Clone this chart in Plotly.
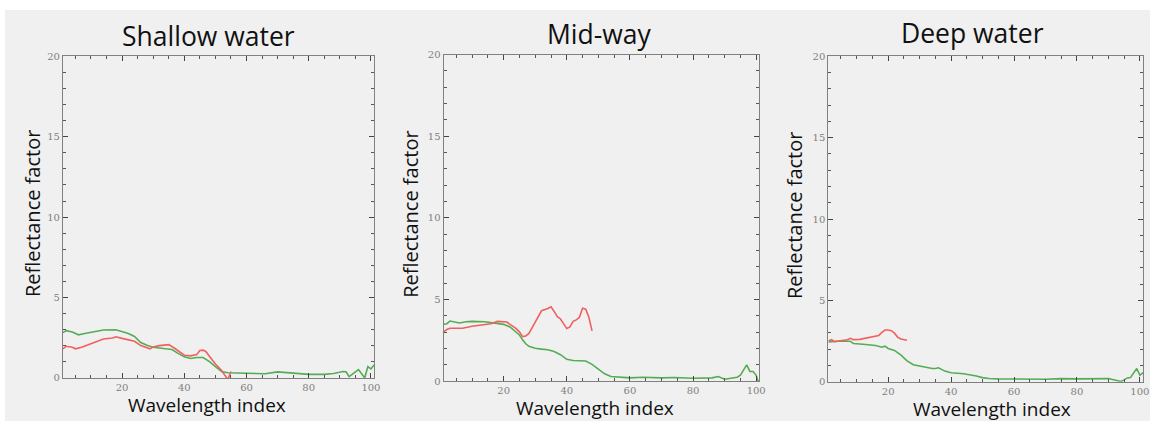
import plotly.graph_objects as go

# ---- data ----
panel_titles = ["Shallow water", "Mid-way", "Deep water"]
x_title = "Wavelength index"
y_title = "Reflectance factor"

shallow_green_x = [1, 2, 4, 6, 8, 10, 14, 18, 20, 22, 24, 26, 28, 30, 34, 36, 38, 40, 42, 44, 46, 48, 50, 52, 54,
                   60, 66, 70, 75, 80, 85, 88, 91, 92, 93, 96, 98, 99, 100, 101]
shallow_green_y = [2.82, 2.94, 2.86, 2.68, 2.76, 2.82, 2.98, 3.0, 2.9, 2.76, 2.58, 2.2, 2.03, 1.91, 1.81, 1.77, 1.53,
                   1.31, 1.21, 1.27, 1.27, 1.03, 0.7, 0.4, 0.32, 0.28, 0.26, 0.38, 0.28, 0.22, 0.22, 0.28, 0.4, 0.38,
                   0.08, 0.52, 0.0, 0.7, 0.56, 0.8]
shallow_red_x = [1, 2, 4, 5, 7, 10, 14, 17, 18, 20, 22, 24, 26, 28, 29, 30, 32, 35, 37, 40, 42, 44, 45, 46, 47, 48,
                 50, 52, 54, 55]
shallow_red_y = [1.81, 1.97, 1.91, 1.81, 1.91, 2.11, 2.42, 2.48, 2.56, 2.46, 2.38, 2.28, 2.01, 1.87, 1.81, 1.93, 2.01,
                 2.07, 1.83, 1.41, 1.37, 1.45, 1.71, 1.73, 1.63, 1.37, 0.87, 0.46, -0.1, 0.4]

mid_green_x = [1, 2, 3, 4, 5, 6, 8, 10, 14, 16, 18, 20, 22, 24, 25, 26, 27, 28, 30, 32, 34, 36, 38, 40, 42, 44, 46,
               48, 50, 52, 54, 56, 60, 64, 66, 70, 74, 80, 86, 88, 90, 92, 94, 95, 96, 97, 98, 99, 100, 100.6]
mid_green_y = [3.48, 3.52, 3.68, 3.64, 3.56, 3.56, 3.64, 3.66, 3.64, 3.6, 3.56, 3.48, 3.32, 3.02, 2.83, 2.53, 2.29,
               2.13, 2.02, 1.96, 1.92, 1.82, 1.62, 1.34, 1.26, 1.25, 1.23, 1.03, 0.71, 0.45, 0.28, 0.24, 0.2, 0.24,
               0.22, 0.2, 0.22, 0.18, 0.2, 0.28, 0.12, 0.16, 0.24, 0.36, 0.71, 1.0, 0.6, 0.59, 0.36, 0.0]
mid_red_x = [1, 2, 3, 5, 7, 10, 14, 16, 18, 20, 21, 22, 24, 25, 26, 27, 28, 30, 32, 34, 35, 36, 37, 38, 40, 41, 42,
             43, 44, 45, 46, 47, 48]
mid_red_y = [3.02, 3.16, 3.24, 3.22, 3.24, 3.36, 3.48, 3.52, 3.66, 3.66, 3.62, 3.48, 3.22, 3.02, 2.73, 2.77, 2.92,
             3.62, 4.31, 4.45, 4.55, 4.27, 3.95, 3.81, 3.22, 3.32, 3.66, 3.75, 3.91, 4.47, 4.41, 3.91, 3.08]

deep_green_x = [1, 4, 8, 9, 12, 16, 18, 19, 20, 22, 24, 26, 28, 30, 32, 34, 35, 36, 38, 40, 44, 46, 48, 50, 52, 55,
                60, 70, 75, 80, 90, 92, 94, 95, 96, 97, 98, 99, 100, 101]
deep_green_y = [2.45, 2.49, 2.49, 2.35, 2.31, 2.23, 2.13, 2.19, 2.05, 1.93, 1.65, 1.29, 1.05, 0.96, 0.9, 0.82, 0.82,
                0.86, 0.66, 0.56, 0.5, 0.44, 0.36, 0.26, 0.2, 0.18, 0.16, 0.16, 0.2, 0.18, 0.2, 0.12, 0.02, 0.12,
                0.24, 0.26, 0.56, 0.82, 0.4, 0.56]
deep_red_x = [1, 2, 3, 5, 7, 8, 9, 11, 13, 15, 17, 18, 19, 20, 21, 22, 23, 24, 25, 26]
deep_red_y = [2.51, 2.59, 2.47, 2.51, 2.59, 2.67, 2.59, 2.61, 2.69, 2.75, 2.85, 3.04, 3.18, 3.18, 3.14, 2.99, 2.75,
              2.63, 2.59, 2.55]

x_range = [1, 101]
y_range = [0, 20]
x_major_step = 20
x_minor_step = 5
y_major_step = 5
y_minor_step = 1

GREEN = "rgb(84,172,84)"
RED = "rgb(240,96,96)"
BG = "#f0f0f0"
AXIS = "#808080"

panels = [
    (shallow_green_x, shallow_green_y, shallow_red_x, shallow_red_y),
    (mid_green_x, mid_green_y, mid_red_x, mid_red_y),
    (deep_green_x, deep_green_y, deep_red_x, deep_red_y),
]

# layout geometry (pixels in a 1156x427 canvas)
W, H = 1156, 427
boxes = [  # left, right, top, bottom
    (63.3, 376.0, 51.7, 382.7),
    (446.0, 763.3, 50.0, 386.0),
    (832.7, 1149.0, 51.7, 386.7),
]
title_pos = [(210, 31), (603, 29), (978, 28)]
ytitle_x = [32, 413, 798]
xtitle_pos = [(208, 411), (598, 414), (997, 415)]

fig = go.Figure()
annotations = []
for i, (gx, gy, rx, ry) in enumerate(panels):
    n = "" if i == 0 else str(i + 1)
    fig.add_trace(go.Scatter(x=gx, y=gy, mode="lines", line=dict(color=GREEN, width=1.6),
                             xaxis="x" + n, yaxis="y" + n, showlegend=False))
    fig.add_trace(go.Scatter(x=rx, y=ry, mode="lines", line=dict(color=RED, width=1.6),
                             xaxis="x" + n, yaxis="y" + n, showlegend=False))
    l, r, t, b = boxes[i]
    common = dict(showgrid=False, zeroline=False, showline=True, linecolor=AXIS, linewidth=1.2,
                  mirror="ticks", ticks="inside", ticklen=5, tickcolor="#444", tickwidth=1,
                  tickmode="linear", tick0=0,
                  tickfont=dict(family="DejaVu Serif", size=10, color="#808080"))
    fig.layout["xaxis" + n] = dict(domain=[l / W, r / W], range=x_range, dtick=x_major_step,
                                   anchor="y" + n,
                                   minor=dict(dtick=x_minor_step, tick0=0, ticks="inside", ticklen=3,
                                              tickcolor="#555", tickwidth=1),
                                   **common)
    fig.layout["yaxis" + n] = dict(domain=[(H - b) / H, (H - t) / H], range=y_range, dtick=y_major_step,
                                   anchor="x" + n,
                                   minor=dict(dtick=y_minor_step, tick0=0, ticks="inside", ticklen=3,
                                              tickcolor="#555", tickwidth=1),
                                   **common)
    tx, ty = title_pos[i]
    annotations.append(dict(text=panel_titles[i], x=tx / W, y=1 - ty / H, xref="paper", yref="paper",
                            showarrow=False, xanchor="center", yanchor="middle",
                            font=dict(family="Open Sans", size=26.5, color="#111")))
    annotations.append(dict(text=y_title, x=ytitle_x[i] / W, y=1 - ((t + b) / 2 - 4) / H, xref="paper",
                            yref="paper", showarrow=False, textangle=-90, xanchor="center", yanchor="middle",
                            font=dict(family="Open Sans", size=20, color="#111")))
    xx, xy = xtitle_pos[i]
    annotations.append(dict(text=x_title, x=xx / W, y=1 - xy / H, xref="paper", yref="paper",
                            showarrow=False, xanchor="center", yanchor="middle",
                            font=dict(family="Open Sans", size=19, color="#111")))

fig.update_layout(width=W, height=H, margin=dict(l=0, r=0, t=0, b=0),
                  paper_bgcolor="white", plot_bgcolor=BG, annotations=annotations,
                  shapes=[dict(type="rect", xref="paper", yref="paper", x0=5 / W, x1=1, y0=0, y1=1 - 4 / H,
                               fillcolor=BG, line=dict(width=0), layer="below")])
fig.write_html("out.html")
